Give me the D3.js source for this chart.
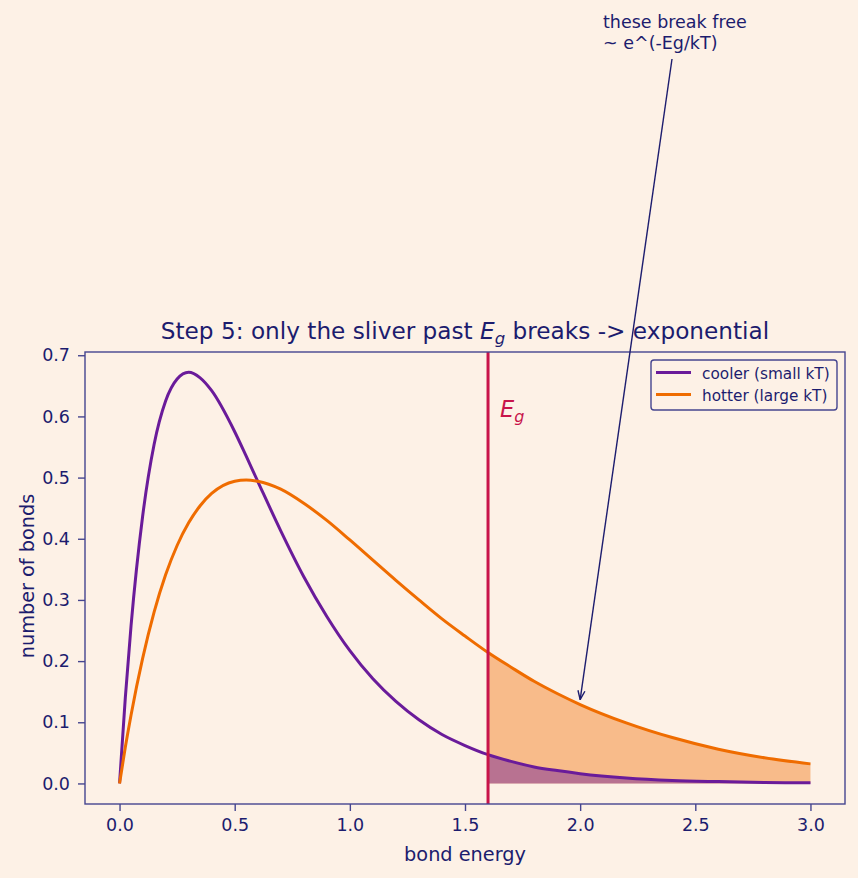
<!DOCTYPE html>
<html>
<head>
<meta charset="utf-8">
<script src="https://cdn.jsdelivr.net/npm/d3@7"></script>
<style>
  body { margin: 0; background: #fdf1e6; }
  svg { display: block; font-family: "DejaVu Sans", sans-serif; }
</style>
</head>
<body>
<div id="chart"></div>
<script>
// values
const energy = [0, 0.025, 0.05, 0.1, 0.15, 0.2, 0.25, 0.3, 0.35, 0.4, 0.5, 0.55, 0.6, 0.7, 0.8, 0.9, 1.0,
  1.1, 1.2, 1.3, 1.4, 1.5, 1.6, 1.7, 1.8, 1.9, 2.0, 2.2, 2.4, 2.6, 2.8, 3.0];
const cooler = [0, 0.140, 0.258, 0.436, 0.554, 0.625, 0.661, 0.672, 0.663, 0.642, 0.575, 0.535, 0.494, 0.413, 0.338, 0.273, 0.217,
  0.171, 0.134, 0.104, 0.080, 0.062, 0.047, 0.036, 0.027, 0.021, 0.016, 0.009, 0.005, 0.003, 0.0015, 0.001];
const hotter = [0, 0.059, 0.112, 0.204, 0.280, 0.341, 0.389, 0.426, 0.454, 0.474, 0.494, 0.496, 0.494, 0.481, 0.458, 0.430, 0.398,
  0.365, 0.332, 0.300, 0.269, 0.241, 0.214, 0.190, 0.167, 0.147, 0.129, 0.099, 0.075, 0.056, 0.042, 0.032];
const Eg = 1.6;
const xTicks = [0, 0.5, 1.0, 1.5, 2.0, 2.5, 3.0];
const yTicks = [0, 0.1, 0.2, 0.3, 0.4, 0.5, 0.6, 0.7];
const seriesNames = ["cooler (small kT)", "hotter (large kT)"];
const annotation = ["these break free", "~ e^(-Eg/kT)"];
const arrowTarget = [2.0, 0.137];

const W = 858, H = 878;
const margin = {top: 352, right: 13, bottom: 74, left: 85};
const width = W - margin.left - margin.right;
const height = H - margin.top - margin.bottom;

const ink = "#1c1c6e", spine = "#45458f";
const cCool = "#6a1b9a", cHot = "#ef6c00", cEg = "#c8144a";

const svg = d3.select("#chart").append("svg")
  .attr("width", W).attr("height", H);

svg.append("defs").append("marker")
  .attr("id", "arr").attr("viewBox", "0 0 10 10")
  .attr("refX", 10).attr("refY", 5)
  .attr("markerWidth", 10).attr("markerHeight", 10)
  .attr("markerUnits", "userSpaceOnUse")
  .attr("orient", "auto")
  .append("path").attr("d", "M1,1.5 L10,5 L1,8.5")
  .attr("fill", "none").attr("stroke", ink).attr("stroke-width", 1.4);

const g = svg.append("g").attr("transform", `translate(${margin.left},${margin.top})`);

const x = d3.scaleLinear().domain([-0.15, 3.15]).range([0, width]);
const y = d3.scaleLinear().domain([-0.0336, 0.7053]).range([height, 0]);

const pts = (ys) => energy.map((e, i) => [e, ys[i]]);
const tail = (ys) => pts(ys).filter(d => d[0] >= Eg);

const line = d3.line().x(d => x(d[0])).y(d => y(d[1])).curve(d3.curveMonotoneX);
const area = d3.area().x(d => x(d[0])).y0(y(0)).y1(d => y(d[1])).curve(d3.curveMonotoneX);

// shaded tails past Eg
g.append("path").datum(tail(hotter)).attr("d", area).attr("fill", cHot).attr("fill-opacity", 0.4);
g.append("path").datum(tail(cooler)).attr("d", area).attr("fill", cCool).attr("fill-opacity", 0.45);

g.append("path").datum(pts(cooler)).attr("d", line)
  .attr("fill", "none").attr("stroke", cCool).attr("stroke-width", 3);
g.append("path").datum(pts(hotter)).attr("d", line)
  .attr("fill", "none").attr("stroke", cHot).attr("stroke-width", 3);

// Eg line
g.append("line")
  .attr("x1", x(Eg)).attr("x2", x(Eg)).attr("y1", 0).attr("y2", height)
  .attr("stroke", cEg).attr("stroke-width", 3);
const egLabel = svg.append("text").attr("x", margin.left + x(Eg) + 12).attr("y", 417)
  .attr("fill", cEg).attr("font-size", 22.5).attr("font-style", "italic");
egLabel.append("tspan").text("E");
egLabel.append("tspan").attr("font-size", 16).attr("dy", 5).text("g");

// frame
g.append("rect").attr("width", width).attr("height", height)
  .attr("fill", "none").attr("stroke", spine).attr("stroke-width", 1.4);

const xAxis = g.append("g").attr("transform", `translate(0,${height})`)
  .call(d3.axisBottom(x).tickValues(xTicks).tickFormat(d3.format(".1f")).tickSize(7).tickPadding(8));
const yAxis = g.append("g")
  .call(d3.axisLeft(y).tickValues(yTicks).tickFormat(d3.format(".1f")).tickSize(7).tickPadding(8));
[xAxis, yAxis].forEach(a => {
  a.select(".domain").remove();
  a.selectAll("line").attr("stroke", spine).attr("stroke-width", 1.4);
  a.selectAll("text").attr("fill", ink).attr("font-size", 17.5)
    .attr("font-family", "DejaVu Sans, sans-serif");
});

// labels
svg.append("text").attr("x", margin.left + width / 2).attr("y", 861)
  .attr("text-anchor", "middle").attr("fill", ink).attr("font-size", 19.3).text("bond energy");
svg.append("text").attr("transform", `translate(34,576) rotate(-90)`)
  .attr("text-anchor", "middle").attr("fill", ink).attr("font-size", 19.3).text("number of bonds");

const title = svg.append("text").attr("x", margin.left + width / 2).attr("y", 339)
  .attr("text-anchor", "middle").attr("fill", ink).attr("font-size", 23.2);
title.append("tspan").text("Step 5: only the sliver past ");
title.append("tspan").attr("font-style", "italic").text("E");
title.append("tspan").attr("font-style", "italic").attr("font-size", 16.5).attr("dy", 5).text("g");
title.append("tspan").attr("dy", -5).text(" breaks -> exponential");

// legend
const leg = svg.append("g").attr("transform", "translate(651,360)");
leg.append("rect").attr("width", 186).attr("height", 50).attr("rx", 3)
  .attr("fill", "#fdf1e6").attr("stroke", spine).attr("stroke-width", 1.4);
[cCool, cHot].forEach((c, i) => {
  leg.append("line").attr("x1", 5).attr("x2", 40).attr("y1", 12.5 + i * 22).attr("y2", 12.5 + i * 22)
    .attr("stroke", c).attr("stroke-width", 3);
  leg.append("text").attr("x", 51).attr("y", 18.5 + i * 22).attr("fill", ink)
    .attr("font-size", 15.3).text(seriesNames[i]);
});

// annotation
const note = svg.append("text").attr("x", 603).attr("y", 28).attr("fill", ink).attr("font-size", 17.5);
annotation.forEach((t, i) => note.append("tspan").attr("x", 603).attr("dy", i ? 21 : 0).text(t));
svg.append("line")
  .attr("x1", 672).attr("y1", 59)
  .attr("x2", margin.left + x(arrowTarget[0])).attr("y2", margin.top + y(arrowTarget[1]))
  .attr("stroke", ink).attr("stroke-width", 1.4).attr("marker-end", "url(#arr)");
</script>
</body>
</html>
